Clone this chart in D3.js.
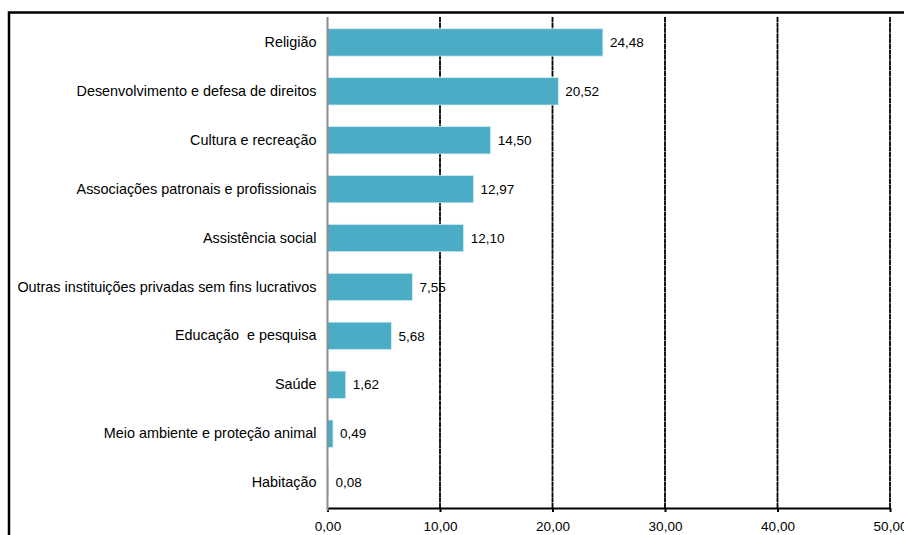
<!DOCTYPE html>
<html>
<head>
<meta charset="utf-8">
<script src="https://cdn.jsdelivr.net/npm/d3@7"></script>
<style>
  html, body { margin: 0; padding: 0; background: #fff; }
  svg { display: block; }
  text { font-family: "Liberation Sans", Arial, sans-serif; fill: #000; white-space: pre; }
</style>
</head>
<body>
<svg id="chart" width="904" height="535"></svg>
<script>
// Categories, top to bottom
const categories = [
  "Religião",
  "Desenvolvimento e defesa de direitos",
  "Cultura e recreação",
  "Associações patronais e profissionais",
  "Assistência social",
  "Outras instituições privadas sem fins lucrativos",
  "Educação  e pesquisa",
  "Saúde",
  "Meio ambiente e proteção animal",
  "Habitação"
];
// Share of each category (%)
const values = [24.48, 20.52, 14.50, 12.97, 12.10, 7.55, 5.68, 1.62, 0.49, 0.08];
// Axis ticks
const tickValues = [0, 10, 20, 30, 40, 50];

const fmt = v => v.toFixed(2).replace(".", ",");

const svg = d3.select("#chart");
const plotLeft = 327.5, plotRight = 890, plotTop = 17, plotBottom = 508;

const x = d3.scaleLinear().domain([0, 50]).range([plotLeft, plotRight]);
const y = d3.scaleBand().domain(categories).range([plotTop, plotBottom])
  .paddingInner(0.44).paddingOuter(0.24);

// Outer frame
svg.append("path")
  .attr("d", "M9,540 V12.5 H910")
  .attr("fill", "none").attr("stroke", "#000").attr("stroke-width", 2.5);

// Vertical gridlines
svg.append("g").selectAll("line")
  .data(tickValues.filter(t => t > 0))
  .join("line")
  .attr("x1", d => x(d)).attr("x2", d => x(d))
  .attr("y1", plotTop).attr("y2", plotBottom)
  .attr("stroke", "#000").attr("stroke-width", 1.8)
  .attr("stroke-dasharray", "5,0.4");

// Bottom axis
const xAxis = d3.axisBottom(x).tickValues(tickValues).tickFormat(fmt)
  .tickSize(4).tickSizeOuter(0).tickPadding(9);
const gx = svg.append("g").attr("transform", `translate(0,${plotBottom})`).call(xAxis);
gx.select(".domain").attr("stroke", "#000").attr("stroke-width", 2);
gx.selectAll(".tick line").attr("stroke", "#000").attr("stroke-width", 2);
gx.selectAll(".tick text").attr("font-size", 13.5)
  .attr("font-family", "Liberation Sans, Arial, sans-serif").attr("fill", "#000");

// Bars
svg.append("g").selectAll("rect")
  .data(values)
  .join("rect")
  .attr("x", x(0))
  .attr("y", (d, i) => y(categories[i]))
  .attr("width", d => x(d) - x(0))
  .attr("height", y.bandwidth())
  .attr("fill", "#4bacc6")
  .attr("stroke", "#d6eef4").attr("stroke-width", 0.8);

// Category axis (left)
const yAxis = d3.axisLeft(y).tickSize(0).tickPadding(11);
const gy = svg.append("g").attr("transform", `translate(${x(0)},0)`).call(yAxis);
gy.select(".domain").attr("stroke", "#8c8c8c").attr("stroke-width", 2)
  .attr("d", `M0,${plotTop}V${plotBottom + 3}`);
gy.selectAll(".tick text").attr("font-size", 14.4)
  .attr("font-family", "Liberation Sans, Arial, sans-serif").attr("fill", "#000");

// Value labels
svg.append("g").selectAll("text")
  .data(values)
  .join("text")
  .attr("x", d => x(d) + 7)
  .attr("y", (d, i) => y(categories[i]) + y.bandwidth() / 2)
  .attr("dy", "0.35em")
  .attr("font-size", 13.5)
  .text(fmt);
</script>
</body>
</html>
